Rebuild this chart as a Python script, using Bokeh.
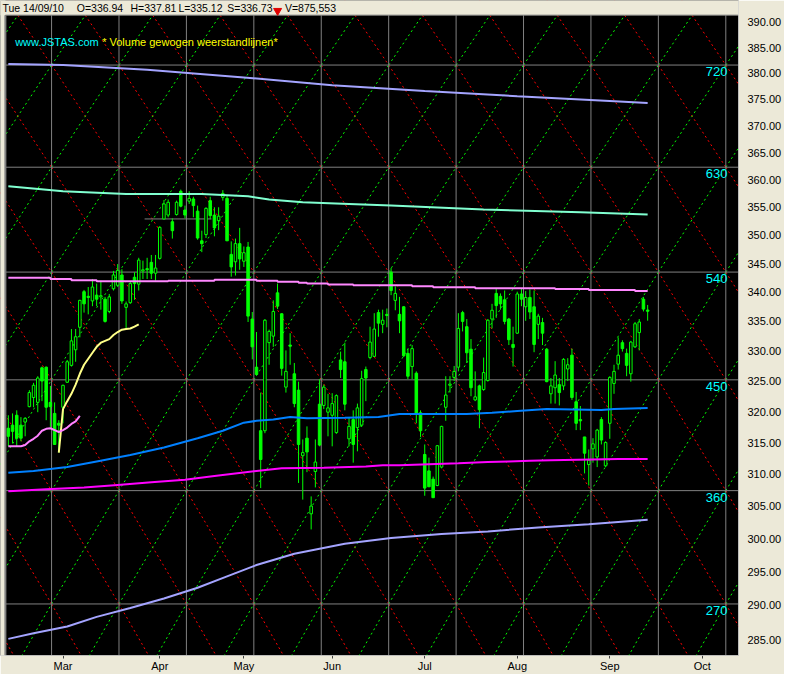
import math
import pandas as pd
from bokeh.plotting import figure
from bokeh.models import Range1d, FixedTicker, PrintfTickFormatter, Span, ColumnDataSource
from bokeh.core.properties import value
from bokeh.embed import file_html
from bokeh.resources import INLINE

FONT = "Liberation Sans"

# ---------------- data ----------------
month_names = ["Mar", "Apr", "May", "Jun", "Jul", "Aug", "Sep", "Oct"]
holidays = {"2010-04-02", "2010-04-05"}

opens = [
    317.3, 317.8, 319.4, 317.8, 318.3, 320.8, 322.3, 321.5, 327.2, 327.3, 321.5, 319.7, 318.1,
    320.7, 324.8, 327.6, 330.2, 334.0, 340.1, 339.3, 338.5, 339.5, 339.2,
    338.8, 336.7, 340.6, 341.2, 343.0, 337.4, 338.2, 342.6, 341.4, 343.7,
    344.1, 345.2, 343.3, 345.9, 352.9, 353.6, 352.4, 353.7, 357.9, 354.5,
    356.1, 356.5, 354.3, 349.0, 350.1, 356.2, 353.6, 352.6, 356.8, 356.6,
    346.6, 345.3, 348.5, 345.4, 347.9, 335.4, 327.3, 316.9, 316.9, 331.4,
    332.5, 339.9, 336.3, 324.0, 331.0, 326.2, 323.5, 312.9, 315.7, 303.8,
    310.4, 321.2, 321.0, 319.9, 319.4, 316.6, 328.5, 328.2, 315.6, 318.7,
    317.4, 317.8, 326.9, 328.9, 329.1, 336.5, 334.5, 336.2, 343.5, 338.6,
    336.2, 337.5, 329.6, 327.4, 326.3, 319.8, 313.1, 310.5, 309.2, 308.2,
    311.1, 320.7, 324.3, 325.6, 327.3, 336.5, 334.1, 330.3, 321.9, 324.2,
    323.6, 325.1, 335.4, 339.8, 339.3, 338.7, 335.4, 331.1, 333.0, 339.7,
    337.5, 339.1, 337.5, 334.5, 334.8, 330.3, 322.9, 323.9, 324.4, 324.2,
    327.0, 329.3, 321.6, 318.7, 315.9, 311.5, 314.0, 312.7, 318.7, 311.3,
    318.1, 324.6, 327.8, 331.4, 329.6, 326.2, 330.7, 333.1, 338.8, 336.94,
]
highs = [
    319.4, 319.7, 320.2, 319.1, 319.1, 323.5, 324.7, 325.8, 327.4, 327.4, 324.2, 321.5, 318.6,
    324.4, 328.5, 333.7, 333.7, 338.7, 340.4, 340.9, 342.3, 341.5, 342.0,
    339.2, 339.7, 343.7, 344.9, 344.0, 338.4, 341.8, 343.5, 346.0, 345.5,
    346.0, 346.5, 346.5, 351.6, 356.3, 356.4, 353.0, 356.2, 358.2, 355.3,
    357.9, 356.9, 355.3, 350.8, 355.0, 356.9, 355.0, 355.0, 358.1, 357.2,
    348.9, 349.4, 351.3, 348.0, 348.8, 336.6, 333.2, 323.1, 335.4, 333.6,
    338.6, 341.5, 336.4, 330.1, 333.0, 328.0, 324.9, 315.5, 317.6, 306.5,
    315.5, 325.3, 324.4, 322.9, 323.0, 322.8, 329.9, 331.4, 319.1, 320.2,
    321.3, 326.7, 327.4, 334.1, 336.4, 337.0, 337.0, 337.2, 344.2, 341.0,
    339.2, 337.6, 330.4, 331.0, 326.6, 320.2, 314.7, 312.6, 309.6, 314.6,
    317.7, 325.8, 325.8, 327.5, 336.4, 336.8, 335.4, 332.0, 326.6, 324.4,
    328.9, 335.4, 338.0, 340.6, 339.8, 340.3, 335.6, 334.1, 340.1, 340.6,
    340.2, 340.5, 340.3, 336.3, 335.6, 330.5, 325.5, 328.3, 325.5, 328.8,
    328.8, 330.4, 323.2, 320.9, 315.9, 313.9, 315.7, 317.2, 319.1, 315.2,
    325.8, 327.7, 332.3, 331.8, 330.4, 331.7, 334.9, 335.4, 339.2, 337.81,
]
lows = [
    314.4, 314.9, 314.4, 315.2, 316.0, 320.7, 320.7, 319.9, 321.7, 318.6, 317.5, 314.7, 313.4,
    318.1, 324.7, 327.4, 328.2, 332.3, 336.5, 336.2, 337.6, 337.6, 337.0,
    334.8, 336.4, 340.3, 340.9, 338.0, 333.7, 338.0, 338.7, 340.3, 342.3,
    342.3, 342.3, 342.0, 345.7, 352.8, 353.2, 349.4, 353.5, 355.0, 353.0,
    355.6, 353.2, 349.2, 347.0, 349.5, 352.9, 349.8, 350.9, 356.2, 349.0,
    342.7, 342.9, 343.9, 344.4, 334.9, 328.6, 325.9, 307.8, 316.5, 327.7,
    330.7, 337.1, 325.9, 323.1, 327.7, 320.7, 308.6, 306.0, 310.3, 301.4,
    307.9, 314.4, 320.4, 316.0, 314.4, 316.4, 325.5, 320.2, 314.4, 311.8,
    313.6, 317.5, 321.7, 328.6, 329.0, 332.4, 333.0, 334.0, 339.5, 336.9,
    333.0, 329.0, 325.3, 325.3, 318.1, 315.9, 306.6, 308.0, 306.3, 308.1,
    310.9, 318.5, 323.1, 325.0, 326.6, 333.3, 328.0, 322.5, 321.7, 317.3,
    323.4, 324.9, 333.8, 335.6, 337.0, 334.5, 331.0, 327.4, 332.9, 337.6,
    335.1, 335.4, 329.8, 332.0, 331.0, 324.8, 321.3, 321.3, 321.0, 323.5,
    325.0, 321.9, 317.0, 317.0, 310.1, 308.2, 311.8, 311.1, 314.7, 311.1,
    315.6, 322.9, 326.9, 329.9, 325.8, 324.9, 330.5, 330.1, 336.7, 335.12,
]
closes = [
    316.0, 316.8, 315.7, 315.7, 318.9, 323.1, 324.3, 325.5, 325.0, 320.7, 320.8, 314.7, 317.8,
    324.3, 328.2, 331.7, 332.4, 338.6, 338.0, 339.1, 340.9, 338.8, 339.4,
    335.0, 339.2, 343.0, 343.8, 338.5, 338.0, 341.5, 341.5, 345.6, 343.9,
    343.9, 343.3, 344.2, 351.4, 355.6, 355.9, 350.8, 355.9, 355.2, 353.6,
    356.6, 355.3, 349.5, 348.5, 354.8, 353.5, 351.3, 353.4, 357.5, 349.0,
    344.4, 348.5, 345.8, 346.9, 335.9, 330.7, 326.1, 312.3, 335.2, 333.3,
    336.7, 337.6, 327.1, 326.6, 330.8, 321.3, 314.7, 313.4, 313.5, 305.0,
    311.9, 314.6, 324.0, 320.6, 321.3, 322.6, 326.9, 321.2, 317.6, 314.7,
    320.6, 325.4, 325.5, 331.5, 333.7, 334.7, 335.2, 336.0, 340.3, 339.8,
    335.1, 329.2, 325.8, 330.4, 319.7, 316.9, 307.8, 308.0, 306.3, 314.5,
    317.6, 322.7, 324.5, 326.6, 333.8, 335.0, 329.7, 323.9, 322.4, 320.3,
    326.4, 335.2, 336.9, 337.7, 338.0, 335.0, 331.9, 330.6, 339.7, 338.8,
    339.1, 336.6, 331.1, 335.9, 333.0, 324.9, 324.2, 326.0, 323.1, 328.6,
    327.7, 322.3, 318.1, 318.5, 313.3, 312.2, 314.8, 317.0, 315.4, 315.0,
    325.6, 326.6, 329.3, 330.4, 327.6, 331.5, 334.6, 334.9, 337.1, 336.73,
]
first_day = -13   # 10 Feb 2010, relative to 1 Mar 2010

# volume weighted resistance lines (day index, price)
vw720_x = [-13, 0, 20, 43, 64, 86, 108, 130, 139]
vw720_y = [381.8, 381.6, 380.7, 379.2, 377.7, 376.6, 375.6, 374.7, 374.3]
vw630_x = [-13, 0, 15, 33, 44, 49, 57, 68, 78, 100, 123, 139]
vw630_y = [358.8, 357.9, 357.4, 357.4, 357.0, 356.4, 355.9, 355.6, 355.3, 354.6, 354.1, 353.7]
vw540_x = [-13, -3, 2, 8, 25, 36, 46, 51, 56, 58, 63, 69, 83, 88, 98, 117, 125, 136, 139]
vw540_y = [342.5, 342.3, 342.07, 341.9, 342.0, 342.18, 342.0, 341.8, 341.65, 341.5, 341.35,
           341.22, 341.05, 340.88, 340.71, 340.54, 340.37, 340.2, 340.2]
blue_x = [-13, -7, 1, 8, 16, 24, 32, 38, 43, 46, 50, 54, 58, 67, 75, 80, 96, 102, 108, 115, 128, 131, 139]
blue_y = [310.2, 310.5, 311.1, 312.0, 313.0, 314.2, 315.7, 316.9, 318.2, 318.5, 318.7, 319.1,
          318.9, 319.0, 319.1, 319.6, 319.6, 319.8, 320.1, 320.4, 320.25, 320.4, 320.6]
mag_x = [-13, -4, 5, 13, 21, 29, 36, 46, 52, 62, 72, 76, 80, 94, 101, 106, 111, 116, 132, 139]
mag_y = [307.3, 307.6, 307.9, 308.3, 308.7, 309.1, 309.7, 310.5, 310.9, 311.0, 311.2, 311.4,
         311.4, 311.7, 311.9, 312.0, 312.1, 312.2, 312.4, 312.4]
vw360_x = [-13, -7, 1, 8, 16, 24, 32, 39, 46, 55, 67, 78, 90, 101, 113, 125, 139]
vw360_y = [285.1, 285.9, 286.9, 288.3, 289.6, 291.0, 292.6, 294.3, 296.0, 297.7, 299.2, 300.1,
           300.7, 301.1, 301.7, 302.2, 302.9]
yellow_x = list(range(-1, 19))
yellow_y = [313.4, 320.4, 321.7, 322.9, 324.4, 326.2, 327.7, 328.7, 329.7, 330.7, 331.4, 331.7,
            332.0, 332.7, 333.2, 333.6, 333.7, 333.8, 334.1, 334.5]
pink_x = list(range(-13, 5))
pink_y = [314.4, 314.4, 314.4, 314.4, 314.6, 315.2, 315.6, 316.1, 316.9, 317.2, 317.3, 317.0,
          316.7, 317.0, 317.4, 318.0, 318.4, 319.3]
hline_x = [19.4, 35.3]
hline_y = 352.9

# Gann grid
gann_labels = ["270", "360", "450", "540", "630", "720"]
gann_prices = [290.2, 307.4, 325.2, 343.5, 362.3, 381.6]
gann_x0, gann_dx = -2.72, 16.03

right_ticks = [285 + 5 * k for k in range(22)]

header_fields = ["Tue 14/09/10", "O=336.94", "H=337.81", "L=335.12", "S=336.73", "V=875,553"]
header_px = [2, 78, 133, 182, 232, 291]
site_text, site_desc = "www.JSTAS.com", "* Volume gewogen weerstandlijnen*"

# ---------------- layout helpers (reference pixel -> data) ----------------
X_PLOT_L, X_PLOT_R = -13.7, 160.6     # data x at plot edges (ref px 5 .. 755)
Y_PLOT_B, Y_PLOT_T = 282.7, 391.4     # data y at plot edges (ref px 671 .. 15)
UX = (X_PLOT_R - X_PLOT_L) / 750.0
KY = 656.0 / math.log(Y_PLOT_T / Y_PLOT_B)


def xr(px):
    return X_PLOT_L + (px - 5) * UX


def yr(py):
    return Y_PLOT_T * math.exp((15 - py) / KY)


X0, X1 = xr(0), X_PLOT_R
Y0, Y1 = Y_PLOT_B, yr(0)
BEIGE = "#ECE9D8"

# ---------------- derived ----------------
days = [d for d in pd.bdate_range("2010-02-01", "2010-10-29") if d.strftime("%Y-%m-%d") not in holidays]
i0 = days.index(pd.Timestamp("2010-03-01"))
month_ticks = [next(k for k, d in enumerate(days) if d.month == m) - i0 for m in range(3, 11)]

xs = list(range(first_day, first_day + len(opens)))
src = ColumnDataSource(dict(
    x=xs, o=opens, h=highs, l=lows, c=closes,
    top=[max(a, b) for a, b in zip(opens, closes)],
    bot=[min(a, b) for a, b in zip(opens, closes)],
    fill=["#00FF00" if c < o else "black" for o, c in zip(opens, closes)],
))

W, H = 784, 674
p = figure(width=W, height=H, x_range=Range1d(X0, X1), y_range=Range1d(Y0, Y1),
           y_axis_type="log", y_axis_location="right", output_backend="svg",
           toolbar_location=None, min_border_left=0, min_border_right=0,
           min_border_top=0, min_border_bottom=0)
p.background_fill_color = "black"
p.border_fill_color = BEIGE
p.outline_line_color = None
p.grid.visible = False

ya = p.yaxis[0]
ya.ticker = FixedTicker(ticks=right_ticks)
ya.formatter = PrintfTickFormatter(format="%.2f")
ya.axis_line_color = None
ya.major_tick_line_color = None
ya.minor_tick_line_color = None
ya.major_label_standoff = 3
ya.major_label_text_font = FONT
ya.major_label_text_font_size = "11px"
ya.major_label_text_color = "black"

xa = p.xaxis[0]
xa.ticker = FixedTicker(ticks=month_ticks)
xa.major_label_overrides = {t: n for t, n in zip(month_ticks, month_names)}
xa.axis_line_color = None
xa.major_tick_in = 0
xa.major_tick_out = 3
xa.major_tick_line_color = "#404040"
xa.minor_tick_line_color = None
xa.major_label_standoff = 1
xa.major_label_text_font = FONT
xa.major_label_text_font_size = "11px"
xa.major_label_text_color = "black"

# Gann lattice
s_levels = [math.sqrt(v) for v in gann_prices]
ext = [(s_levels[0] - 0.5) ** 2] + gann_prices + [(s_levels[-1] + 0.5) ** 2]
vx = [gann_x0 + gann_dx * k for k in range(-1, 12)]
rx0, ry0, rx1, ry1, gx0, gy0, gx1, gy1 = ([] for _ in range(8))
for a, b in zip(vx[:-1], vx[1:]):
    for lo, hi in zip(ext[:-1], ext[1:]):
        rx0.append(a); ry0.append(hi); rx1.append(b); ry1.append(lo)
        gx0.append(a); gy0.append(lo); gx1.append(b); gy1.append(hi)
p.segment(rx0, ry0, rx1, ry1, line_color="#FF0000", line_width=1, line_dash="2 3")
p.segment(gx0, gy0, gx1, gy1, line_color="#00FF00", line_width=1, line_dash="2 3")
p.segment(vx, [Y0 * 0.9] * len(vx), vx, [Y1 * 1.1] * len(vx), line_color="#808080", line_width=1)
p.segment([X0 - 5] * len(gann_prices), gann_prices, [X1 + 5] * len(gann_prices), gann_prices,
          line_color="#808080", line_width=1)
p.segment([hline_x[0]], [hline_y], [hline_x[1]], [hline_y], line_color="#808080", line_width=1)

# candles
p.segment("x", "l", "x", "h", source=src, line_color="#00FF00", line_width=1)
p.vbar(x="x", width=0.6, top="top", bottom="bot", source=src,
       fill_color="fill", line_color="#00FF00", line_width=1)

# resistance lines
p.line(vw720_x, vw720_y, line_color="#A4A4FF", line_width=2)
p.line(vw630_x, vw630_y, line_color="#80FFD0", line_width=2)
p.step(vw540_x, vw540_y, mode="after", line_color="#FF88FF", line_width=2)
p.line(blue_x, blue_y, line_color="#0080FF", line_width=2)
p.line(mag_x, mag_y, line_color="#FF00FF", line_width=2)
p.line(vw360_x, vw360_y, line_color="#A4A4FF", line_width=2)
p.line(yellow_x, yellow_y, line_color="#FFFF88", line_width=2)
p.line(pink_x, pink_y, line_color="#FF80FF", line_width=2)

# Gann level labels
p.text(x=[X1] * len(gann_prices), y=gann_prices, text=gann_labels, x_offset=-11, y_offset=2,
       text_align="right", text_baseline="top", text_color="#00FFFF",
       text_font=value(FONT), text_font_size="13px")

# site caption
p.text(x=[xr(15)], y=[yr(43)], text=[site_text], text_align="left", text_baseline="middle",
       text_color="#00FFFF", text_font=value(FONT), text_font_size="11px")
p.text(x=[xr(104)], y=[yr(43)], text=[site_desc], text_align="left", text_baseline="middle",
       text_color="#FFFF00", text_font=value(FONT), text_font_size="11px")

# beige bands (header strip and left margin) and window-style borders
p.quad(left=[X0 - 5], right=[X1 + 5], bottom=[Y_PLOT_T], top=[Y1 * 1.05],
       fill_color=BEIGE, line_color=None)
p.quad(left=[X0 - 5], right=[xr(5)], bottom=[Y0 * 0.95], top=[Y1 * 1.05],
       fill_color=BEIGE, line_color=None)
p.segment([xr(5)], [Y_PLOT_T], [X1], [Y_PLOT_T], line_color="#808080", line_width=1)
p.segment([xr(5)], [Y0 * 0.95], [xr(5)], [Y_PLOT_T], line_color="#808080", line_width=2)
p.add_layout(Span(location=X1, dimension="height", line_color="white", line_width=1))
p.add_layout(Span(location=Y0, dimension="width", line_color="white", line_width=1))

# header texts
p.text(x=[xr(px) for px in header_px], y=[yr(8)] * len(header_px), text=header_fields,
       text_align="left", text_baseline="middle", text_color="black",
       text_font=value(FONT), text_font_size="10.5px")
p.scatter(x=[xr(283.5)], y=[yr(10.5)], marker="inverted_triangle", size=8,
          fill_color="#E00000", line_color="#E00000")

open("out.html", "w").write(file_html(p, INLINE))
